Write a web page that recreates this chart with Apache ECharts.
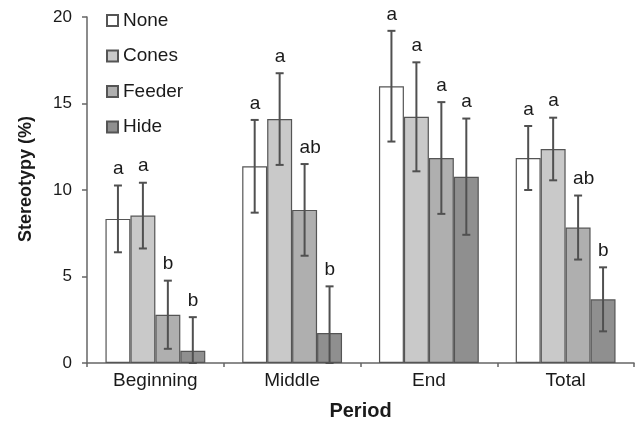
<!DOCTYPE html>
<html>
<head>
    <meta charset="utf-8">
    <title>Stereotypy</title>
    <script src="https://cdn.jsdelivr.net/npm/echarts@6/dist/echarts.min.js"></script>
</head>
<body style="margin:0">
    <div id="main" style="width:636px;height:423px;"></div>
    <script type="text/javascript">
        var periods = ['Beginning', 'Middle', 'End', 'Total'];
        var treatments = ['None', 'Cones', 'Feeder', 'Hide'];

        // means (%)
        var noneMean   = [8.33, 11.37, 16.0, 11.85];
        var conesMean  = [8.52, 14.1, 14.23, 12.37];
        var feederMean = [2.79, 8.85, 11.85, 7.83];
        var hideMean   = [0.71, 1.73, 10.77, 3.68];

        // error bar half-lengths
        var noneErr   = [1.93, 2.68, 3.2, 1.85];
        var conesErr  = [1.9, 2.65, 3.15, 1.81];
        var feederErr = [1.97, 2.65, 3.23, 1.85];
        var hideErr   = [1.94, 2.7, 3.36, 1.85];

        // significance letters
        var noneLetters   = ['a', 'a', 'a', 'a'];
        var conesLetters  = ['a', 'a', 'a', 'a'];
        var feederLetters = ['b', 'ab', 'a', 'ab'];
        var hideLetters   = ['b', 'b', 'a', 'b'];

        var yTicks = [0, 5, 10, 15, 20];

        var means = [noneMean, conesMean, feederMean, hideMean];
        var errs = [noneErr, conesErr, feederErr, hideErr];
        var letters = [noneLetters, conesLetters, feederLetters, hideLetters];
        var colors = ['#ffffff', '#c9c9c9', '#afafaf', '#8f8f8f'];
        var catGap = 0.27;
        var font = '"Liberation Sans", Arial, sans-serif';

        var errData = [];
        for (var s = 0; s < 4; s++) {
            for (var c = 0; c < 4; c++) {
                var m = means[s][c], e = errs[s][c];
                errData.push([c, s, Math.max(0, m - e), m + e, letters[s][c]]);
            }
        }

        var myChart = echarts.init(document.getElementById('main'));

        var series = treatments.map(function (name, i) {
            return {
                name: name,
                type: 'bar',
                data: means[i],
                barGap: '0%',
                barCategoryGap: (catGap * 100) + '%',
                itemStyle: { color: colors[i], borderColor: '#555', borderWidth: 1.2 },
                emphasis: { disabled: true }
            };
        });

        series.push({
            type: 'custom',
            data: errData,
            z: 10,
            silent: true,
            renderItem: function (params, api) {
                var cat = api.value(0), s = api.value(1);
                var band = api.size([1, 0])[0];
                var bw = band * (1 - catGap) / 4;
                var hi = api.coord([cat, api.value(3)]);
                var lo = api.coord([cat, api.value(2)]);
                var x = hi[0] + (s - 1.5) * bw;
                var cap = 4;
                var st = { stroke: '#505050', lineWidth: 2 };
                return {
                    type: 'group',
                    children: [
                        { type: 'line', shape: { x1: x, y1: hi[1], x2: x, y2: lo[1] }, style: st },
                        { type: 'line', shape: { x1: x - cap, y1: hi[1], x2: x + cap, y2: hi[1] }, style: st },
                        { type: 'line', shape: { x1: x - cap, y1: lo[1], x2: x + cap, y2: lo[1] }, style: st },
                        {
                            type: 'text',
                            style: {
                                x: x - 5, y: hi[1] - 7,
                                text: errData[params.dataIndex][4],
                                align: 'left', verticalAlign: 'bottom',
                                fill: '#1a1a1a', fontSize: 19, fontFamily: font
                            }
                        }
                    ]
                };
            }
        });

        var option = {
            animation: false,
            backgroundColor: '#fff',
            textStyle: { fontFamily: font },
            legend: {
                data: treatments,
                orient: 'vertical',
                left: 101,
                top: 6,
                itemWidth: 11,
                itemHeight: 11,
                itemGap: 16.5,
                icon: 'rect',
                selectedMode: false,
                textStyle: { fontSize: 19, color: '#1a1a1a', lineHeight: 19, fontFamily: font }
            },
            grid: { left: 87, right: 2, top: 17, bottom: 60, outerBoundsMode: 'none' },
            xAxis: {
                type: 'category',
                data: periods,
                name: 'Period',
                nameLocation: 'middle',
                nameGap: 38,
                nameTextStyle: { fontSize: 20, fontWeight: 'bold', color: '#1a1a1a' },
                axisLine: { lineStyle: { color: '#666', width: 1.5 } },
                axisTick: { show: true, length: 4, lineStyle: { color: '#666', width: 1.5 } },
                axisLabel: { fontSize: 19, color: '#1a1a1a', margin: 8 }
            },
            yAxis: {
                type: 'value',
                min: yTicks[0],
                max: yTicks[yTicks.length - 1],
                interval: 5,
                name: 'Stereotypy (%)',
                nameLocation: 'middle',
                nameGap: 52,
                nameTextStyle: { fontSize: 18, fontWeight: 'bold', color: '#1a1a1a', padding: [0, 0, 0, 22] },
                axisLine: { show: true, lineStyle: { color: '#666', width: 1.5 } },
                axisTick: { show: true, length: 5, lineStyle: { color: '#666', width: 1.5 } },
                axisLabel: { fontSize: 17, color: '#1a1a1a', margin: 15 },
                splitLine: { show: false }
            },
            series: series
        };

        myChart.setOption(option);
    </script>
</body>
</html>
